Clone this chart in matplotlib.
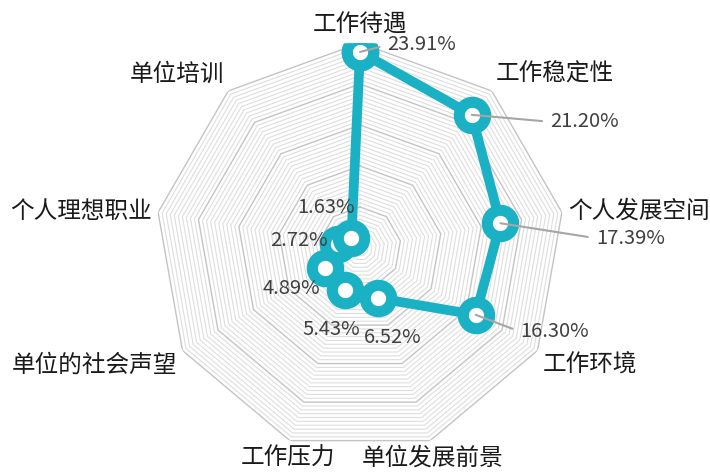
import numpy as np
import matplotlib
matplotlib.use('Agg')
import matplotlib.pyplot as plt

plt.rcParams['font.family'] = ['Noto Sans CJK SC', 'DejaVu Sans']

# job choice factors, clockwise from the top
categories = ['工作待遇', '工作稳定性', '个人发展空间', '工作环境', '单位发展前景',
              '工作压力', '单位的社会声望', '个人理想职业', '单位培训']
shares = [23.91, 21.20, 17.39, 16.30, 6.52, 5.43, 4.89, 2.72, 1.63]
value_labels = ['23.91%', '21.20%', '17.39%', '16.30%', '6.52%',
                '5.43%', '4.89%', '2.72%', '1.63%']

# label offsets in pixels from each point, and whether a leader line is drawn
label_offsets = [(62, 7), (113, -7), (130, -15), (79, -17), (14, -39),
                 (-14, -40), (-34, -20), (-39, 4), (-25, 30)]
leaders = [True, True, True, True, False, False, False, False, False]

r_max = 25.0
minor_step = 0.5
major_step = 5.0
teal = '#19b1c3'

def nonagon(ax, r, color, lw):
  n = len(categories)
  th = np.linspace(0, 2 * np.pi, n + 1)
  ax.plot(th, [r] * (n + 1), color=color, lw=lw, zorder=1, solid_joinstyle='miter')

def main():
  fig = plt.figure(figsize=(7.1, 4.74), dpi=100)
  ax = fig.add_axes([155 / 710, 21 / 474, 410 / 710, 410 / 474], projection='polar')
  ax.set_theta_zero_location('N')
  ax.set_theta_direction(-1)
  ax.set_ylim(0, r_max)
  ax.axis('off')

  n = len(categories)
  angles = np.arange(n) * 2 * np.pi / n

  for r in np.arange(minor_step, r_max + 0.01, minor_step):
    if abs(r / major_step - round(r / major_step)) < 1e-6:
      nonagon(ax, r, '#c4c4c4', 1.0)
    else:
      nonagon(ax, r, '#dedede', 0.8)

  th = np.append(angles, angles[0])
  vals = np.append(shares, shares[0])
  ax.plot(th, vals, color=teal, lw=7, marker='o', ms=19, mew=8,
          mfc='white', mec=teal, zorder=3, solid_joinstyle='round')

  for i in range(n):
    dx, dy = label_offsets[i]
    if leaders[i]:
      ax.annotate(value_labels[i], xy=(angles[i], shares[i]), xytext=(dx, dy),
                  textcoords='offset pixels', ha='center', va='center',
                  fontsize=14.5, color='#404040', zorder=5,
                  arrowprops=dict(arrowstyle='-', color='#a6a6a6', lw=1.5,
                                  relpos=(0, 0.5), shrinkA=4, shrinkB=0))
    else:
      ax.annotate(value_labels[i], xy=(angles[i], shares[i]), xytext=(dx, dy),
                  textcoords='offset pixels', ha='center', va='center',
                  fontsize=14.5, color='#404040', zorder=5)

  # category names just outside the outer ring
  for i in range(n):
    s = np.sin(angles[i])
    c = np.cos(angles[i])
    if s > 0.5:
      ha = 'left'
    elif s < -0.5:
      ha = 'right'
    else:
      ha = 'center'
    if c > 0.3:
      va = 'bottom'
    elif c < -0.3:
      va = 'top'
    else:
      va = 'center'
    ax.text(angles[i], r_max + 0.8, categories[i], ha=ha, va=va,
            fontsize=17, color='#1a1a1a', zorder=5)

  fig.savefig('out.png', dpi=100)
  plt.close(fig)

if __name__ == "__main__":
  main()
